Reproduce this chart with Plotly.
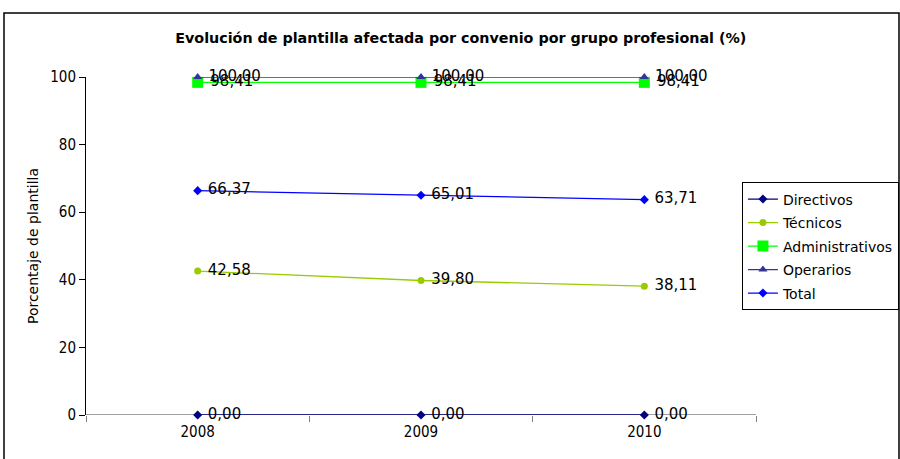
import plotly.graph_objects as go

years = ["2008", "2009", "2010"]
directivos = [0.00, 0.00, 0.00]
tecnicos = [42.58, 39.80, 38.11]
administrativos = [98.41, 98.41, 98.41]
operarios = [100.00, 100.00, 100.00]
total = [66.37, 65.01, 63.71]

def fmt(v):
    return f"{v:.2f}".replace(".", ",")

series = [
    ("Directivos", directivos, "#000080", "diamond", 7),
    ("Técnicos", tecnicos, "#99CC00", "circle", 7),
    ("Administrativos", administrativos, "#00FF00", "square", 11),
    ("Operarios", operarios, "#333399", "triangle-up", 8),
    ("Total", total, "#0000FF", "diamond", 7),
]

fig = go.Figure()
for name, vals, color, sym, size in series:
    fig.add_trace(go.Scatter(
        x=years, y=vals, name=name, legendgroup=name, mode="lines+markers+text",
        line=dict(color=color, width=1.3),
        marker=dict(color=color, symbol=sym, size=size),
        text=[" " + fmt(v) for v in vals], textposition="middle right",
        textfont=dict(family="DejaVu Sans", size=15, color="#000000"),
        cliponaxis=False,
    ))

fig.update_layout(
    width=900, height=459,
    margin=dict(l=86, r=144, t=77, b=44, autoexpand=False),
    paper_bgcolor="white", plot_bgcolor="white",
    font=dict(family="DejaVu Sans", size=14, color="#000000"),
    title=dict(text="<b>Evolución de plantilla afectada por convenio por grupo profesional (%)</b>",
               x=0.512, xanchor="center", y=1 - 38 / 459, yanchor="middle",
               font=dict(family="DejaVu Sans", size=14.3, color="#000000")),
    xaxis=dict(type="category", range=[-0.5, 2.5], showgrid=False,
               showline=False, zeroline=False,
               ticks="outside", tickson="boundaries", ticklen=6, tickcolor="#808080",
               ticklabelstandoff=6,
               tickfont=dict(family="DejaVu Sans Condensed", size=15)),
    yaxis=dict(range=[0, 100], dtick=20, showgrid=False, zeroline=False,
               showline=True, linecolor="#000000", linewidth=1,
               ticks="outside", ticklen=6, tickcolor="#000000",
               title=dict(text="Porcentaje de plantilla", font=dict(size=14), standoff=8),
               tickfont=dict(family="DejaVu Sans Condensed", size=15)),
    legend=dict(x=0.979, y=0.688, xanchor="left", yanchor="top",
                bordercolor="#000000", borderwidth=1, bgcolor="white",
                font=dict(family="DejaVu Sans", size=14), tracegroupgap=2.3,
                itemwidth=30),
    showlegend=True,
)

# x axis baseline at y=0 (gray)
fig.add_shape(type="line", xref="paper", yref="y", x0=0, x1=1, y0=0, y1=0,
              line=dict(color="#808080", width=1.5), layer="below")
# outer chart frame
fig.add_shape(type="rect", xref="paper", yref="paper",
              x0=(4 - 86) / 670, x1=(899 - 86) / 670,
              y0=(415 - 470) / 338, y1=(415 - 13) / 338,
              line=dict(color="#000000", width=1.5), fillcolor="rgba(0,0,0,0)")

fig.write_html("out.html")
